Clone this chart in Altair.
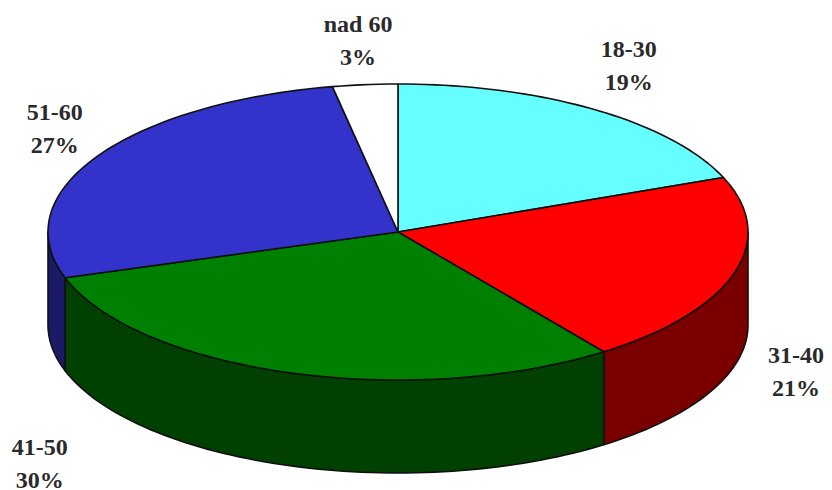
import math
import altair as alt
import pandas as pd

categories = ["18-30", "31-40", "41-50", "51-60", "nad 60"]
values = [19, 21, 30, 27, 3]
top_colors = ["#66FFFF", "#FF0000", "#008000", "#3333CC", "#FFFFFF"]
side_colors = ["#339999", "#7A0000", "#004000", "#1A1A66", "#999999"]
label_shift = [(34, -60), (62, 83), (-250, 75), (-42, -44), (-7, -60)]

W, H = 816, 482
CX, CY, RX, RY = 398, 232, 350, 148
DEPTH = 93 / RY


def pt(deg, drop=0.0):
    a = math.radians(deg)
    return math.sin(a), math.cos(a) - drop


rows = []


def add(key, pts):
    closed = pts + [pts[0]]
    for i, (x, y) in enumerate(closed):
        rows.append({"key": key, "i": i, "x": x, "y": y})


def arc(a, b):
    n = max(2, int(abs(b - a) / 1.5))
    return [a + (b - a) * k / n for k in range(n + 1)]


domain, colors = [], []
start = 0.0
spans = []
for c, v in zip(categories, values):
    spans.append((c, start, start + v * 3.6))
    start += v * 3.6

for (c, a, b), col in zip(spans, side_colors):
    lo, hi = max(a, 90), min(b, 270)
    if lo < hi:
        angs = arc(lo, hi)
        add("side " + c, [pt(t) for t in angs] + [pt(t, DEPTH) for t in reversed(angs)])
        domain.append("side " + c)
        colors.append(col)
for (c, a, b), col in zip(spans, top_colors):
    add("top " + c, [(0.0, 0.0)] + [pt(t) for t in arc(a, b)])
    domain.append("top " + c)
    colors.append(col)

x_scale = alt.Scale(domain=[(8 - CX) / RX, (8 + W - CX) / RX], range=[0, W], nice=False, zero=False)
y_scale = alt.Scale(domain=[(CY - 8 - H) / RY, (CY - 8) / RY], range=[H, 0], nice=False, zero=False)
X = alt.X("x:Q", scale=x_scale, axis=None)
Y = alt.Y("y:Q", scale=y_scale, axis=None)

shapes = alt.Chart(pd.DataFrame(rows)).mark_line(
    stroke="#101010", strokeWidth=1.6, strokeJoin="round", interpolate="linear"
).encode(
    x=X, y=Y, order="i:Q",
    detail="key:N",
    fill=alt.Fill("key:N", scale=alt.Scale(domain=domain, range=colors), legend=None),
)

layers = [shapes]
for (c, a, b), v, (dx, dy) in zip(spans, values, label_shift):
    mx, my = pt((a + b) / 2)
    layers.append(
        alt.Chart(pd.DataFrame([{"x": mx, "y": my, "t": f"{c}\n{v}%"}])).mark_text(
            font="Liberation Serif", fontWeight="bold", fontSize=24, color="#2A2A2A",
            lineBreak="\n", lineHeight=33, dx=dx, dy=dy, align="center", baseline="middle",
        ).encode(x=X, y=Y, text="t:N")
    )

chart = alt.layer(*layers).properties(
    width=W, height=H, padding=0, autosize=alt.AutoSizeParams(type="none"),
    background="white",
).configure_view(stroke=None)

chart.save("out.html", embed_options={"renderer": "svg", "actions": False})
